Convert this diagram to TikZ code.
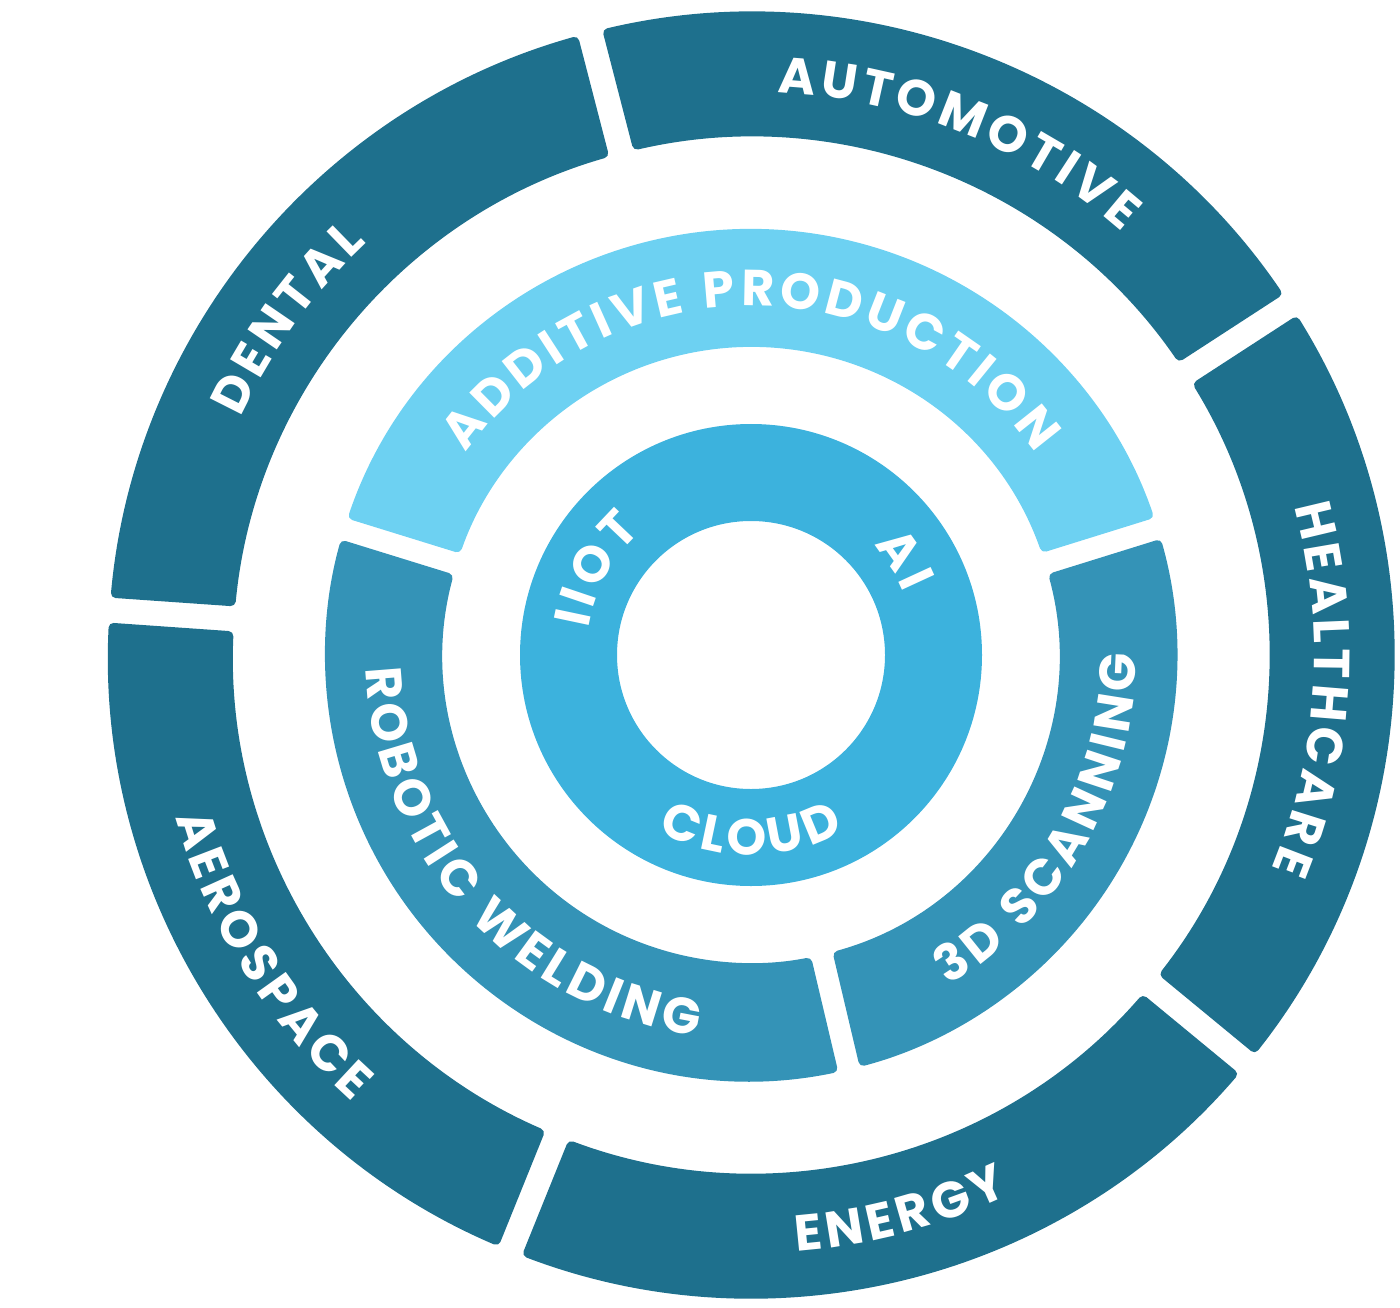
\documentclass[tikz,border=0pt]{standalone}
\usepackage{fontspec}
\setmainfont{Poppins}
\usetikzlibrary{decorations.text}
\definecolor{outerblue}{RGB}{30,112,141}
\definecolor{additive}{RGB}{109,209,242}
\definecolor{midblue}{RGB}{52,147,183}
\definecolor{innerblue}{RGB}{60,178,221}
% ring segment: r_in, r_out, from, to, half gap, colour
\newcommand{\ringpart}[6]{%
  \pgfmathsetmacro{\gapout}{asin(#5/#2)}%
  \pgfmathsetmacro{\gapin}{asin(#5/#1)}%
  \fill[#6, rounded corners=1.4pt] ({#3-\gapout}:#2)
    arc[start angle=#3-\gapout, end angle=#4+\gapout, radius=#2]
    -- ({#4+\gapin}:#1)
    arc[start angle=#4+\gapin, end angle=#3-\gapin, radius=#1] -- cycle;
}
\tikzset{
  ringtext/.style={decorate, decoration={text effects along path,
      text={#1}, text align=center,
      text effects/.cd, text along path,
      characters={text=white}, character widths={inner xsep=0.65pt}}}
}

\begin{document}
\begin{tikzpicture}[scale=0.1, font=\bfseries\fontsize{14.4}{14.4}\selectfont]
  \useasboundingbox (-75.1,-65.2) rectangle (64.9,65.5);
  % outer ring
  \ringpart{51.8}{64.3}{104.5}{33}{1.25}{outerblue}
  \ringpart{51.8}{64.3}{33}{-39.5}{1.25}{outerblue}
  \ringpart{51.8}{64.3}{-39.5}{-112}{1.25}{outerblue}
  \ringpart{51.8}{64.3}{248}{176}{1.25}{outerblue}
  \ringpart{51.8}{64.3}{176}{104.5}{1.25}{outerblue}
  % middle ring
  \ringpart{30.8}{42.6}{162.8}{17.3}{1.1}{additive}
  \ringpart{30.8}{42.6}{17.3}{-76.7}{1.1}{midblue}
  \ringpart{30.8}{42.6}{283.3}{162.8}{1.1}{midblue}
  % inner ring
  \fill[innerblue, even odd rule] (0,0) circle[radius=23.1] (0,0) circle[radius=13.4];

  % labels, clockwise
  \path[ringtext={AUTOMOTIVE}] (128:56.3) arc[start angle=128, end angle=8, radius=56.3];
  \path[ringtext={HEALTHCARE}] (56.5:56.3) arc[start angle=56.5, end angle=-63.5, radius=56.3];
  \path[ringtext={DENTAL}] (204:56.3) arc[start angle=204, end angle=84, radius=56.3];
  \path[ringtext={ADDITIVE PRODUCTION}] (170:34.9) arc[start angle=170, end angle=10, radius=34.9];
  \path[ringtext={IIOT}] (211:16.5) arc[start angle=211, end angle=91, radius=16.5];
  \path[ringtext={AI}] (92:16.5) arc[start angle=92, end angle=-28, radius=16.5];
  % labels, counterclockwise
  \path[ringtext={ENERGY}] (-135:59.8) arc[start angle=-135, end angle=-15, radius=59.8];
  \path[ringtext={AEROSPACE}] (152:59.8) arc[start angle=152, end angle=272, radius=59.8];
  \path[ringtext={ROBOTIC WELDING}] (152:38.5) arc[start angle=152, end angle=292, radius=38.5];
  \path[ringtext={3D SCANNING}] (-89.5:38.5) arc[start angle=-89.5, end angle=30.5, radius=38.5];
  \path[ringtext={CLOUD}] (210:20) arc[start angle=210, end angle=330, radius=20];
\end{tikzpicture}
\end{document}
